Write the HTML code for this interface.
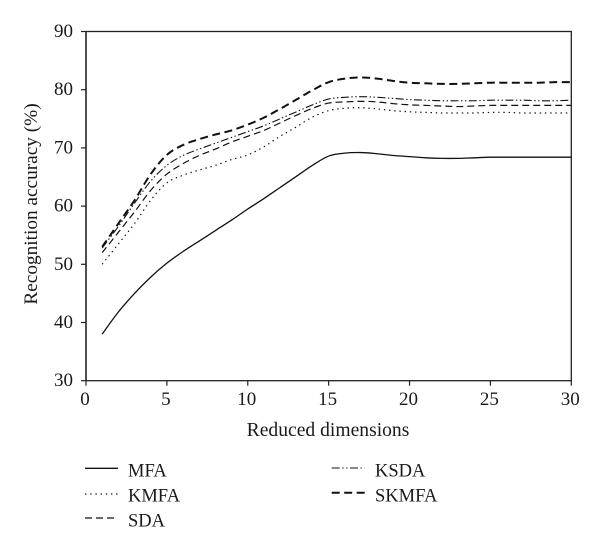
<!DOCTYPE html>
<html>
<head>
<meta charset="utf-8">
<style>
html,body{margin:0;padding:0;background:#fff;width:600px;height:554px;overflow:hidden}
svg{display:block}
text{font-family:"Liberation Serif",serif;fill:#1a1a1a}
</style>
</head>
<body>
<svg id="chart" xmlns="http://www.w3.org/2000/svg" width="600" height="554" viewBox="0 0 600 554"></svg>
<script>
const dimensions = [1,2,3,4,5,6,7,8,9,10,11,12,13,14,15,16,17,18,19,20,21,22,23,24,25,26,27,28,29,30];
const mfaValues = [38,41.8,45,47.8,50.2,52.2,54,55.8,57.6,59.5,61.3,63.2,65.1,67,68.6,69.1,69.2,69,68.7,68.5,68.3,68.2,68.2,68.3,68.4,68.4,68.4,68.4,68.4,68.4];
const kmfaValues = [50,53.5,57,61,64,65.3,66.2,67,68,68.8,70.2,72,73.6,75.3,76.4,76.8,76.9,76.7,76.4,76.2,76.1,76,76,76,76.1,76.1,76,76,76,76];
const sdaValues = [52,55.5,59,62.7,65.5,67.3,68.7,69.8,71,72,73,74.3,75.6,76.8,77.7,77.9,78,77.9,77.6,77.4,77.3,77.2,77.1,77.2,77.3,77.3,77.3,77.3,77.3,77.3];
const ksdaValues = [52.8,56.5,60.5,64.3,67,68.7,69.8,70.8,71.8,72.8,73.8,75,76.2,77.4,78.4,78.7,78.8,78.7,78.5,78.3,78.2,78.1,78.1,78.1,78.2,78.2,78.2,78.1,78.1,78.2];
const skmfaValues = [53,57,61,65.5,68.8,70.5,71.5,72.3,73,74,75.2,76.7,78.3,79.9,81.3,81.9,82.1,81.9,81.5,81.2,81.1,81,81,81.1,81.2,81.2,81.2,81.2,81.3,81.3];
const xTicks = [0,5,10,15,20,25,30];
const yTicks = [30,40,50,60,70,80,90];

const NS = 'http://www.w3.org/2000/svg';
const svg = document.getElementById('chart');
const plot = {left:86, right:571.3, top:31.5, bottom:380.7, xMin:0, xMax:30, yMin:30, yMax:90};
function xScale(v){return plot.left + (v-plot.xMin)/(plot.xMax-plot.xMin)*(plot.right-plot.left);}
function yScale(v){return plot.bottom - (v-plot.yMin)/(plot.yMax-plot.yMin)*(plot.bottom-plot.top);}
function make(tag, attrs, parent){
  const el = document.createElementNS(NS, tag);
  for(const k in attrs){el.setAttribute(k, attrs[k]);}
  (parent||svg).appendChild(el);
  return el;
}
function smoothPath(xs, ys){
  const p = xs.map((x,i)=>[xScale(x), yScale(ys[i])]);
  let d = 'M'+p[0][0].toFixed(2)+' '+p[0][1].toFixed(2);
  for(let i=0;i<p.length-1;i++){
    const a=p[Math.max(i-1,0)], b=p[i], c=p[i+1], e=p[Math.min(i+2,p.length-1)];
    const c1x=b[0]+(c[0]-a[0])/6, c1y=b[1]+(c[1]-a[1])/6;
    const c2x=c[0]-(e[0]-b[0])/6, c2y=c[1]-(e[1]-b[1])/6;
    d+=' C'+c1x.toFixed(2)+' '+c1y.toFixed(2)+' '+c2x.toFixed(2)+' '+c2y.toFixed(2)+' '+c[0].toFixed(2)+' '+c[1].toFixed(2);
  }
  return d;
}

const frame = make('rect',{x:plot.left,y:plot.top,width:plot.right-plot.left,height:plot.bottom-plot.top,fill:'none',stroke:'#222','stroke-width':1.3});


const leftAxis = make('line',{x1:plot.left,x2:plot.left,y1:plot.top,y2:plot.bottom,stroke:'#333','stroke-width':1.6});



xTicks.forEach(function(t){
  const tick = make('line',{x1:xScale(t),x2:xScale(t),y1:plot.bottom,y2:plot.bottom+5,stroke:'#222','stroke-width':1.2});
  
  
  const label = make('text',{x:xScale(t)-1,y:405,'text-anchor':'middle','font-size':19});
  label.textContent = t;
  
  
});
yTicks.forEach(function(t){
  const tick = make('line',{x1:plot.left-5,x2:plot.left,y1:yScale(t),y2:yScale(t),stroke:'#222','stroke-width':1.2});
  
  
  const label = make('text',{x:73,y:yScale(t)+5.5,'text-anchor':'end','font-size':19});
  label.textContent = t;
  
  
});

const seriesDefs = [
  {name:'MFA', values:mfaValues, dash:'', width:1.3, lx:85, ly:468.3, by:476.7, tx:128},
  {name:'KMFA', values:kmfaValues, dash:'1.4 3.8', width:1.2, lx:85, ly:494, by:501.7, tx:128},
  {name:'SDA', values:sdaValues, dash:'7 4', width:1.2, lx:85, ly:518, by:526.7, tx:128},
  {name:'KSDA', values:ksdaValues, dash:'8 2.5 1.4 2.5 1.4 2.5', width:1.1, lx:331.7, ly:468, by:476.7, tx:375},
  {name:'SKMFA', values:skmfaValues, dash:'8 4.5', width:2, lx:331.7, ly:492.7, by:501.7, tx:375}
];
seriesDefs.forEach(function(s){
  const line = make('path',{d:smoothPath(dimensions,s.values),fill:'none',stroke:'#111','stroke-width':s.width,'stroke-dasharray':s.dash});
  
  
  const sw = make('line',{x1:s.lx,x2:s.lx+33,y1:s.ly,y2:s.ly,stroke:'#111','stroke-width':s.width,'stroke-dasharray':s.dash});
  
  
  const lab = make('text',{x:s.tx,y:s.by,'font-size':18.5});
  lab.textContent = s.name;
  
  
});

const xTitle = make('text',{x:328,y:436,'text-anchor':'middle','font-size':19.6});
xTitle.textContent = 'Reduced dimensions';


const yTitle = make('text',{x:0,y:0,'text-anchor':'middle','font-size':19.3,transform:'translate(37 204) rotate(-90)'});
yTitle.textContent = 'Recognition accuracy (%)';


</script>
</body>
</html>
